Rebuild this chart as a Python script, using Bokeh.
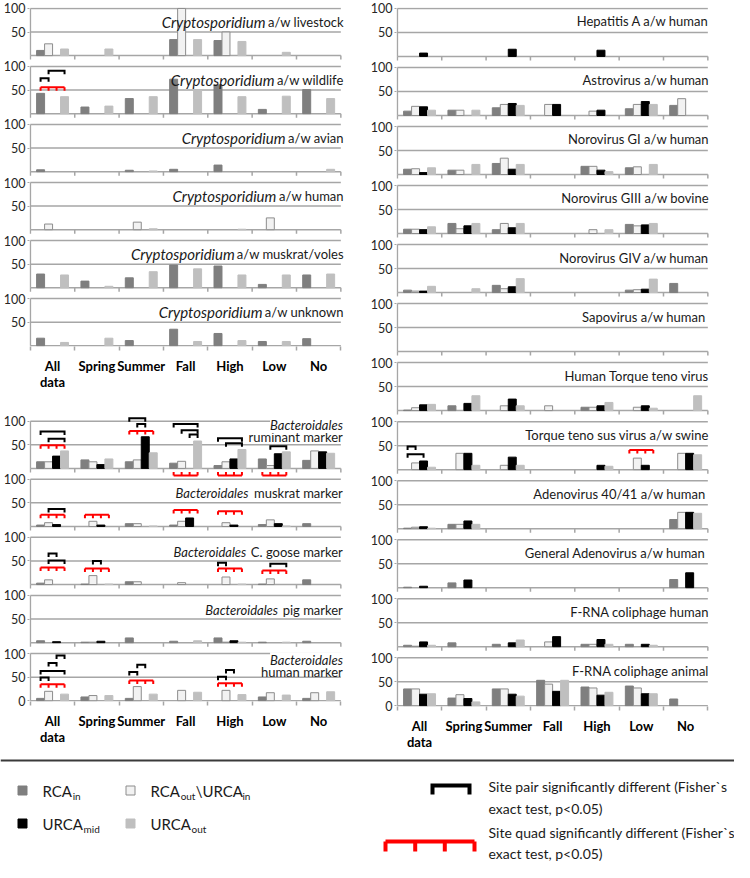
from bokeh.plotting import figure
from bokeh.models import Range1d, FixedTicker
from bokeh.layouts import column, row
from bokeh.embed import file_html
from bokeh.resources import INLINE
from bokeh.core.properties import value

# ---------------------------------------------------------------- data
categories = ["All data", "Spring", "Summer", "Fall", "High", "Low", "No"]
category_tick_labels = ["All\ndata", "Spring", "Summer", "Fall", "High", "Low", "No"]
series = ["RCA_in", "RCA_out\\URCA_in", "URCA_mid", "URCA_out"]

# each panel: rows = series (RCA_in, RCA_out\URCA_in, URCA_mid, URCA_out), columns = categories (% positive)
crypto_livestock = [[11, 0, 0, 34, 32, 0, 0], [25, 0, 0, 100, 50, 0, 0],
                    [0, 0, 0, 0, 0, 0, 0], [14, 14, 0, 34, 30, 7, 0]]
crypto_wildlife = [[43, 14, 32, 73, 61, 9, 51], [0, 0, 0, 0, 0, 0, 0],
                   [0, 0, 0, 0, 0, 0, 0], [36, 16, 36, 50, 36, 37, 32]]
crypto_avian = [[4, 0, 3, 5, 14, 0, 0], [0, 0, 0, 0, 0, 0, 0],
                [0, 0, 0, 0, 0, 0, 0], [0, 0, 1.5, 0, 0, 0, 5]]
crypto_human = [[0, 0, 0, 0, 0, 0, 0], [12, 0, 16, 0, 0, 25, 0],
                [0, 0, 0, 0, 0, 0, 0], [0, 0, 2, 0, 1, 0, 0]]
crypto_muskrat = [[29, 14, 21, 48, 46, 7, 27], [0, 0, 0, 0, 0, 0, 0],
                  [0, 0, 0, 0, 0, 0, 0], [27, 3, 34, 40, 27, 27, 29]]
crypto_unknown = [[16, 0, 11, 35, 26, 9, 15], [0, 0, 0, 0, 0, 0, 0],
                  [0, 0, 0, 0, 0, 0, 0], [7, 16, 0, 9, 11, 9, 0]]

bact_ruminant = [[14, 18, 14, 11, 6, 20, 17], [14, 14, 18, 15, 14, 6, 37],
                 [26, 8, 67, 0, 20, 31, 35], [37, 20, 33, 58, 40, 35, 32]]
bact_muskrat = [[3, 0, 6, 3, 0, 4, 6], [8, 11, 6, 11, 8, 14, 0],
                [4, 3, 0, 18, 3, 6, 0], [0, 0, 1, 0, 0, 1, 0]]
bact_goose = [[3, 1, 6, 0, 0, 1, 10], [10, 19, 6, 4, 16, 12, 0],
              [0, 0, 0, 0, 0, 0, 0], [0, 1, 0, 0, 1, 0, 0]]
bact_pig = [[4, 1, 10, 3, 10, 1, 3], [0, 1, 0, 0, 1, 0, 0],
            [2, 3, 0, 0, 4, 0, 0], [0, 0, 0, 4, 1, 1, 0]]
bact_human = [[5, 8, 5, 0, 0, 8, 5], [20, 11, 30, 22, 22, 17, 17],
              [0, 0, 0, 0, 0, 0, 0], [14, 11, 14, 18, 13, 12, 19]]

hepatitis_a = [[0, 0, 0, 0, 0, 0, 0], [0, 0, 0, 0, 0, 0, 0],
               [7, 0, 15, 0, 13, 0, 0], [0, 0, 0, 0, 0, 0, 0]]
astrovirus = [[9, 11, 16, 0, 0, 14, 21], [19, 11, 23, 23, 9, 23, 35],
              [18, 0, 25, 23, 11, 29, 0], [11, 11, 21, 0, 0, 23, 0]]
norovirus_gi = [[11, 9, 23, 0, 17, 14, 0], [12, 9, 34, 0, 17, 16, 0],
                [4, 0, 11, 0, 9, 0, 0], [14, 21, 21, 0, 6, 21, 0]]
norovirus_giii = [[9, 21, 8, 0, 0, 19, 0], [9, 10, 21, 0, 8, 16, 0],
                  [8, 16, 12, 0, 0, 18, 0], [14, 21, 21, 0, 8, 21, 0]]
norovirus_giv = [[5, 0, 15, 0, 0, 5, 19], [3, 0, 8, 0, 0, 6, 0],
                 [3, 0, 12, 0, 0, 7, 0], [13, 8, 29, 0, 0, 28, 0]]
sapovirus = [[0, 0, 0, 0, 0, 0, 0], [0, 0, 0, 0, 0, 0, 0],
             [0, 0, 0, 0, 0, 0, 0], [0, 0, 0, 0, 0, 0, 0]]
human_ttv = [[1, 10, 0, 0, 7, 0, 0], [6, 0, 10, 10, 7, 7, 0],
             [12, 15, 24, 0, 10, 10, 0], [13, 31, 10, 0, 17, 5, 31]]
swine_ttsuv = [[0, 0, 0, 0, 0, 0, 0], [14, 34, 9, 0, 0, 24, 34],
               [18, 34, 26, 0, 9, 9, 34], [5, 9, 9, 0, 7, 0, 31]]
adenovirus_4041 = [[1, 9, 0, 0, 0, 0, 19], [3, 9, 0, 0, 0, 0, 34],
                   [4, 16, 0, 0, 0, 0, 34], [1, 9, 0, 0, 0, 0, 32]]
adenovirus_general = [[1, 10, 0, 0, 0, 0, 17], [0, 0, 0, 0, 0, 0, 0],
                      [3, 16, 0, 0, 0, 0, 31], [0, 0, 0, 0, 0, 0, 0]]
frna_human = [[3, 8, 5, 0, 5, 5, 0], [1, 0, 0, 10, 5, 0, 0],
              [10, 0, 8, 21, 15, 5, 0], [3, 0, 14, 0, 5, 3, 0]]
frna_animal = [[35, 16, 35, 53, 39, 41, 14], [35, 23, 35, 45, 37, 37, 0],
               [24, 15, 24, 30, 22, 25, 0], [25, 8, 20, 53, 28, 25, 0]]

crypto_panels = [crypto_livestock, crypto_wildlife, crypto_avian, crypto_human, crypto_muskrat, crypto_unknown]
crypto_titles = [("Cryptosporidium", "a/w livestock"), ("Cryptosporidium", "a/w wildlife"),
                 ("Cryptosporidium", "a/w avian"), ("Cryptosporidium", "a/w human"),
                 ("Cryptosporidium", "a/w muskrat/voles"), ("Cryptosporidium", "a/w unknown")]
bact_panels = [bact_ruminant, bact_muskrat, bact_goose, bact_pig, bact_human]
bact_titles = [("Bacteroidales", "ruminant marker"), ("Bacteroidales", "muskrat marker"),
               ("Bacteroidales", "C. goose marker"), ("Bacteroidales", "pig marker"),
               ("Bacteroidales", "human marker")]
virus_panels = [hepatitis_a, astrovirus, norovirus_gi, norovirus_giii, norovirus_giv, sapovirus,
                human_ttv, swine_ttsuv, adenovirus_4041, adenovirus_general, frna_human, frna_animal]
virus_titles = [("", "Hepatitis A a/w human"), ("", "Astrovirus a/w human"), ("", "Norovirus GI a/w human"),
                ("", "Norovirus GIII a/w bovine"), ("", "Norovirus GIV a/w human"), ("", "Sapovirus  a/w human"),
                ("", "Human Torque teno virus"), ("", "Torque teno sus virus a/w swine"),
                ("", "Adenovirus  40/41 a/w human"), ("", "General Adenovirus  a/w human"),
                ("", "F-RNA coliphage human"), ("", "F-RNA coliphage animal")]

# significance marks: (panel, category, bar_a, bar_b, height) and (panel, category, height)
crypto_pairs = [(1, 0, 0, 1, 75), (1, 0, 1, 3, 91)]
crypto_quads = [(1, 0, 56)]
bact_pairs = [(0, 0, 0, 3, 78), (0, 0, 1, 3, 63), (0, 2, 0, 2, 106), (0, 2, 1, 2, 94),
              (0, 3, 0, 3, 94), (0, 3, 1, 3, 81), (0, 3, 2, 3, 72), (0, 4, 0, 3, 64), (0, 4, 1, 3, 53),
              (0, 5, 1, 3, 47), (1, 0, 1, 3, 37), (2, 0, 1, 2, 66), (2, 0, 1, 3, 51), (2, 1, 1, 2, 50),
              (2, 4, 0, 1, 46), (2, 5, 1, 3, 44), (4, 0, 2, 3, 96), (4, 0, 1, 2, 80), (4, 0, 0, 3, 63),
              (4, 0, 0, 1, 49), (4, 2, 0, 1, 61), (4, 2, 1, 2, 76), (4, 4, 0, 1, 51), (4, 4, 1, 2, 65)]
bact_quads = [(0, 0, 49), (0, 2, 79), (0, 3, -15), (0, 4, -15), (0, 5, -15), (1, 0, 25), (1, 1, 25),
              (1, 3, 35), (1, 4, 32), (2, 0, 36), (2, 1, 34), (2, 4, 34), (2, 5, 30), (4, 0, 35),
              (4, 2, 43), (4, 4, 37)]
virus_pairs = [(7, 0, 0, 1, 48), (7, 0, 0, 2, 32)]
virus_quads = [(7, 5, 41)]

# ---------------------------------------------------------------- style
FILL = ["#7f7f7f", "#f2f2f2", "#000000", "#bfbfbf"]
EDGE = ["#7f7f7f", "#8c8c8c", "#000000", "#bfbfbf"]
BAR_W = 0.18
BAR_OFF = [-0.27, -0.09, 0.09, 0.27]
AXIS = "#a6a6a6"
FONT = "Lato"

LATO_W = {'a': .494, 'b': .558, 'c': .463, 'd': .558, 'e': .523, 'f': .329, 'g': .505, 'h': .555,
          'i': .236, 'j': .236, 'k': .516, 'l': .236, 'm': .833, 'n': .555, 'o': .553, 'p': .549,
          'q': .558, 'r': .382, 's': .427, 't': .364, 'u': .555, 'v': .510, 'w': .771, 'x': .494,
          'y': .510, 'z': .454, ' ': .258, '/': .370, '.': .233, ',': .233, '-': .362, '(': .3,
          ')': .3, '`': .3, '\\': .37, 'A': .675, 'C': .68, 'R': .62, 'U': .73, 'I': .29}


def text_w(s, size):
    tot = 0.0
    for ch in s:
        if ch in LATO_W:
            tot += LATO_W[ch]
        elif ch.isupper():
            tot += 0.65
        elif ch.isdigit():
            tot += 0.58
        else:
            tot += 0.4
    return tot * size


X_END = 7.15   # frame reaches a little past the last category so titles may overhang


def build(panels, titles, pairs, quads, cfg):
    n = len(panels)
    pitch = cfg["pitch"]
    ppu = cfg["ppu"]
    offs = [(n - 1 - k) * pitch for k in range(n)]
    y_top = offs[0] + 100 + cfg["top_pad"]
    y_bot = -1.6
    frame_h = int(round((y_top - y_bot) * ppu))
    upx = (y_top - y_bot) / frame_h
    cat_px = cfg["cat_px"]
    frame_w = int(round((X_END + 0.02) * cat_px))
    p = figure(width=cfg["width"], height=cfg["height"],
               x_range=Range1d(-0.02, X_END), y_range=Range1d(y_bot, y_top),
               output_backend="svg", toolbar_location=None,
               min_border_left=cfg["bl"], min_border_right=cfg["width"] - cfg["bl"] - frame_w,
               min_border_top=cfg["bt"], min_border_bottom=cfg["height"] - cfg["bt"] - frame_h)
    p.xgrid.visible = False
    p.ygrid.visible = False
    p.outline_line_color = None

    # gridlines / baselines
    gy = []
    for off in offs:
        gy += [off, off + 50, off + 100]
    p.segment(x0=[0] * len(gy), y0=gy, x1=[7] * len(gy), y1=gy, line_color=AXIS, line_width=1.5)
    p.segment(x0=[0] * n, y0=offs, x1=[0] * n, y1=[o + 100 for o in offs], line_color=AXIS, line_width=1.5)
    tx, ty0, ty1 = [], [], []
    for off in offs[:-1]:
        for i in range(8):
            tx.append(i)
            ty0.append(off)
            ty1.append(off - 4 * upx)
    p.segment(x0=tx, y0=ty0, x1=tx, y1=ty1, line_color=AXIS, line_width=1.5)

    # bars
    for s in range(4):
        xs, tops, bots = [], [], []
        for k, pdata in enumerate(panels):
            for c, v in enumerate(pdata[s]):
                if v > 0:
                    xs.append(c + 0.5 + BAR_OFF[s])
                    tops.append(offs[k] + v)
                    bots.append(offs[k])
        p.vbar(x=xs, width=BAR_W, top=tops, bottom=bots, fill_color=FILL[s],
               line_color=EDGE[s], line_width=1)

    # titles (on top of bars)
    it = dict(x=[], y=[], text=[], xo=[])
    nm = dict(x=[], y=[], text=[], xo=[])
    sh = cfg["shift"]
    for k, (ital, norm) in enumerate(titles):
        off = offs[k]
        rows2 = cfg["two_line"].get(k)
        if rows2:
            it["x"].append(7); it["y"].append(off + rows2[0]); it["text"].append(ital); it["xo"].append(sh)
            nm["x"].append(7); nm["y"].append(off + rows2[1]); nm["text"].append(norm); nm["xo"].append(sh)
        else:
            nm["x"].append(7); nm["y"].append(off + cfg["title_y"]); nm["text"].append(norm); nm["xo"].append(sh)
            if ital:
                w = text_w(norm, cfg["norm_size"]) + 4
                it["x"].append(7); it["y"].append(off + cfg["title_y"]); it["text"].append(ital)
                it["xo"].append(sh - w)
    p.text(x=nm["x"], y=nm["y"], text=nm["text"], x_offset=nm["xo"], text_align="right",
           text_baseline="alphabetic", text_font=value(FONT),
           text_font_size=value("%gpx" % cfg["norm_size"]), text_color="#1a1a1a")
    if it["x"]:
        p.text(x=it["x"], y=it["y"], text=it["text"], x_offset=it["xo"], text_align="right",
               text_baseline="alphabetic", text_font=value(FONT), text_font_style="italic",
               text_font_size=value("%gpx" % cfg["ital_size"]), text_color="#1a1a1a",
               background_fill_color="white" if cfg["title_bg"] else None)

    # significance brackets
    tick = 3.5 * upx
    bxs, bys = [], []
    for (k, c, a, b, h) in pairs:
        xa = c + 0.5 + BAR_OFF[a]
        xb = c + 0.5 + BAR_OFF[b]
        y = offs[k] + h
        bxs.append([xa, xa, xb, xb])
        bys.append([y - tick, y, y, y - tick])
    if bxs:
        p.multi_line(xs=bxs, ys=bys, line_color="black", line_width=2, line_join="miter")
    rxs, rys = [], []
    for (k, c, h) in quads:
        y = offs[k] + h
        d = -tick if h > 0 else tick
        xs4 = [c + 0.5 + o for o in BAR_OFF]
        rxs.append([xs4[0], xs4[3]])
        rys.append([y, y])
        for x in xs4:
            rxs.append([x, x])
            rys.append([y, y + d])
    if rxs:
        p.multi_line(xs=rxs, ys=rys, line_color="#ff0000", line_width=2)

    # y axis
    ticks, over = [], {}
    for off in offs:
        for t in (50, 100):
            ticks.append(off + t)
            over[off + t] = str(t)
    if cfg["zero"]:
        ticks.append(0)
        over[0] = "0"
    p.yaxis.ticker = FixedTicker(ticks=sorted(ticks))
    p.yaxis.major_label_overrides = over
    p.yaxis.axis_line_color = None
    p.yaxis.major_tick_out = 2
    p.yaxis.major_tick_in = 0
    p.yaxis.major_tick_line_color = AXIS
    p.yaxis.major_label_standoff = 2
    p.yaxis.major_label_text_font = FONT
    p.yaxis.major_label_text_font_size = "12.5px"
    p.yaxis.major_label_text_color = "#262626"

    # x axis
    p.xaxis.ticker = FixedTicker(ticks=[i + 0.5 for i in range(7)], minor_ticks=list(range(8)))
    p.xaxis.major_label_overrides = {i + 0.5: lab for i, lab in enumerate(category_tick_labels)}
    p.xaxis.axis_line_color = None
    p.xaxis.major_tick_out = 0
    p.xaxis.major_tick_in = 0
    p.xaxis.minor_tick_out = 4
    p.xaxis.minor_tick_in = 0
    p.xaxis.minor_tick_line_color = AXIS
    p.xaxis.minor_tick_line_width = 1.5
    p.xaxis.major_label_standoff = 7
    p.xaxis.major_label_text_font = FONT
    p.xaxis.major_label_text_font_style = "bold"
    p.xaxis.major_label_text_font_size = "13px"
    p.xaxis.major_label_text_color = "#000000"
    p.xaxis.major_label_text_line_height = 1.0
    return p


crypto_fig = build(crypto_panels, crypto_titles, crypto_pairs, crypto_quads,
                   dict(width=367, height=412, bl=27, bt=7, ppu=0.4715, cat_px=44.57, pitch=123,
                        top_pad=2, zero=False, ital_size=15, norm_size=13, title_y=72, two_line={},
                        title_bg=False, shift=3))
bact_fig = build(bact_panels, bact_titles, bact_pairs, bact_quads,
                 dict(width=367, height=344, bl=27, bt=3, ppu=0.4715, cat_px=44.57, pitch=123,
                      top_pad=12, zero=True, ital_size=13, norm_size=13, title_y=70,
                      two_line={0: (92, 66), 4: (86, 61)}, title_bg=True, shift=2))
virus_fig = build(virus_panels, virus_titles, virus_pairs, virus_quads,
                  dict(width=367, height=756, bl=27, bt=7, ppu=0.48, cat_px=44.57, pitch=123,
                       top_pad=2, zero=True, ital_size=13, norm_size=13, title_y=73, two_line={},
                       title_bg=False, shift=1))

# ---------------------------------------------------------------- legend
lg = figure(width=734, height=106, x_range=Range1d(0, 734), y_range=Range1d(0, 106),
            output_backend="svg", toolbar_location=None, min_border=0)
lg.axis.visible = False
lg.xgrid.visible = False
lg.ygrid.visible = False
lg.outline_line_color = None
lg.segment(x0=[0], y0=[102], x1=[734], y1=[102], line_color="#3a3a3a", line_width=2)

sq_x = [22, 130, 22, 130]
sq_y = [72, 72, 39, 39]
lg.scatter(x=sq_x, y=sq_y, marker="square", size=9, fill_color=FILL, line_color=EDGE, line_width=1)

MAIN = 15
SUB = 10
leg_parts = [
    [("RCA", "main"), ("in", "sub")],
    [("RCA", "main"), ("out", "sub"), ("\\URCA", "main"), ("in", "sub")],
    [("URCA", "main"), ("mid", "sub")],
    [("URCA", "main"), ("out", "sub")],
]
mx, my, mt, sx, sy, st = [], [], [], [], [], []
for (x0, y0), parts in zip([(42, 72), (150, 72), (42, 39), (150, 39)], leg_parts):
    x = x0
    for txt, kind in parts:
        if kind == "main":
            mx.append(x); my.append(y0); mt.append(txt)
            x += text_w(txt, MAIN)
        else:
            sx.append(x + 0.5); sy.append(y0 - 5); st.append(txt)
            x += text_w(txt, SUB) + 1
lg.text(x=mx, y=my, text=mt, text_font=value(FONT), text_font_size=value("%dpx" % MAIN),
        text_baseline="middle", text_color="#1a1a1a")
lg.text(x=sx, y=sy, text=st, text_font=value(FONT), text_font_size=value("%dpx" % SUB),
        text_baseline="middle", text_color="#1a1a1a")

lg.multi_line(xs=[[432, 432, 469, 469]], ys=[[68, 77, 77, 68]], line_color="black", line_width=4,
              line_join="miter")
qx = [385, 414.7, 444.3, 474]
lg.multi_line(xs=[[385, 474]] + [[x, x] for x in qx], ys=[[21, 21]] + [[21, 11] for _ in qx],
              line_color="#ff0000", line_width=4)
lg.text(x=[488, 488, 488, 488], y=[76, 54, 30, 9],
        text=["Site pair significantly different (Fisher`s", "exact test, p<0.05)",
              "Site quad significantly different (Fisher`s", "exact test, p<0.05)"],
        text_font=value(FONT), text_font_size=value("14px"), text_baseline="middle", text_color="#1a1a1a")

layout = column(row(column(crypto_fig, bact_fig, spacing=0), virus_fig, spacing=0), lg, spacing=0)
open("out.html", "w").write(file_html(layout, INLINE))
